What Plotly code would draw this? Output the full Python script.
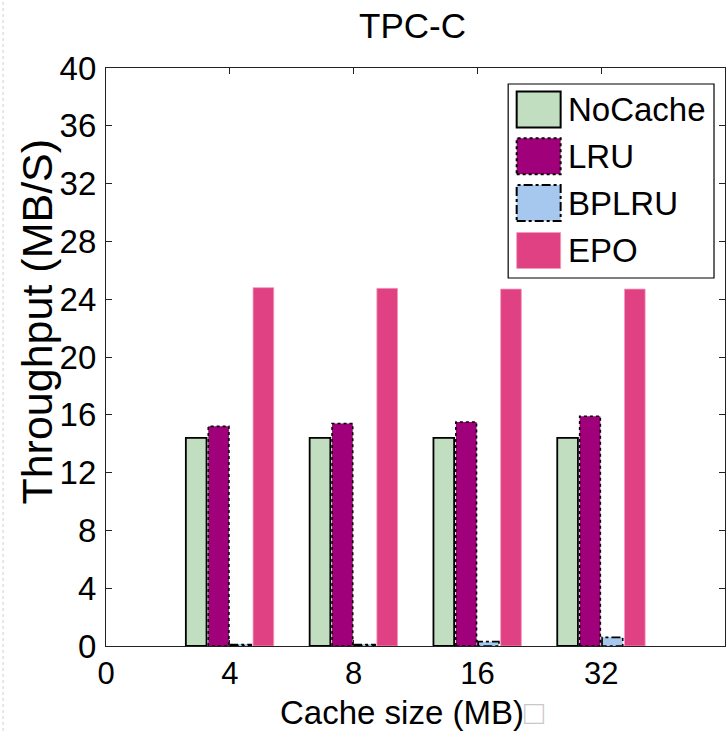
import plotly.graph_objects as go

# ---- data ----
cache_sizes = ["4", "8", "16", "32"]
tick_labels = ["0", "4", "8", "16", "32"]
nocache = [14.4, 14.4, 14.4, 14.4]
lru = [15.2, 15.4, 15.5, 15.9]
bplru = [0.1, 0.1, 0.3, 0.6]
epo = [24.8, 24.75, 24.7, 24.7]
series_names = ["NoCache", "LRU", "BPLRU", "EPO"]

# ---- style ----
W, H = 726, 731
ML, MR, MT, MB = 105.5, 1, 68, 85
FONT = "Liberation Sans, Arial, sans-serif"
colors = {"NoCache": "#C1DEC1", "LRU": "#A0007A", "BPLRU": "#A7C8EE", "EPO": "#E04182"}
dashes = {"NoCache": "solid", "LRU": "dot", "BPLRU": "dashdot", "EPO": None}

slot = 0.181
bw = 0.167
xpos = [i + 1 for i in range(len(cache_sizes))]
series_vals = [nocache, lru, bplru, epo]

fig = go.Figure()
for k, (name, vals) in enumerate(zip(series_names, series_vals)):
    center_off = (k - 1.5) * slot
    line = dict(width=0)
    if name == "NoCache":
        line = dict(width=1.8, color="black")
    elif name == "EPO":
        line = dict(width=0.8, color="#F39BBE")
    fig.add_trace(go.Bar(
        x=xpos, y=vals, name=name, width=bw, offset=center_off - bw / 2,
        marker=dict(color=colors[name], line=line), showlegend=False,
    ))
    if name in ("LRU", "BPLRU"):
        ox, oy = [], []
        for xp, v in zip(xpos, vals):
            x0 = xp + center_off - bw / 2
            x1 = x0 + bw
            ox += [x0, x0, x1, x1, x0, None]
            oy += [0, v, v, 0, 0, None]
        fig.add_trace(go.Scatter(
            x=ox, y=oy, mode="lines", showlegend=False, hoverinfo="skip",
            line=dict(color="black", width=1.6, dash=dashes[name]),
        ))

pw = W - ML - MR
ph = H - MT - MB


def px_x(p):
    return (p - ML) / pw


def px_y(p):
    return (H - MB - p) / ph


shapes = []
annotations = []
# legend box
shapes.append(dict(type="rect", xref="paper", yref="paper",
                   x0=px_x(508), x1=px_x(714), y0=px_y(278), y1=px_y(84),
                   line=dict(color="black", width=1.2), fillcolor="white", layer="above"))
entry_centers = [109.5, 156.3, 203, 250.5]
for name, cy in zip(series_names, entry_centers):
    if name == "EPO":
        ln = dict(width=0.8, color="#F39BBE")
    elif name == "NoCache":
        ln = dict(width=2, color="black")
    else:
        ln = dict(width=2, color="black", dash=dashes[name])
    shapes.append(dict(type="rect", xref="paper", yref="paper",
                       x0=px_x(516.5), x1=px_x(560.5), y0=px_y(cy + 18), y1=px_y(cy - 18),
                       line=ln, fillcolor=colors[name], layer="above"))
    annotations.append(dict(text=name, xref="paper", yref="paper",
                            x=px_x(566), y=px_y(cy), xanchor="left", yanchor="middle",
                            showarrow=False, font=dict(family=FONT, size=33, color="black")))

# faint dashed border line at left edge
shapes.append(dict(type="line", xref="paper", yref="paper",
                   x0=px_x(2.5), x1=px_x(2.5), y0=px_y(H), y1=px_y(0),
                   line=dict(color="#d0d0d0", width=1, dash="dot")))

# y axis title
annotations.append(dict(text="Throughput (MB/S)", xref="paper", yref="paper",
                        x=px_x(36), y=px_y(322), xanchor="center", yanchor="middle",
                        textangle=-90, showarrow=False,
                        font=dict(family=FONT, size=43, color="black")))
# x axis title
annotations.append(dict(text="Cache size (MB)<span style='color:#c8c8c8'>□</span>",
                        xref="paper", yref="paper",
                        x=px_x(412), y=px_y(712), xanchor="center", yanchor="middle",
                        showarrow=False, font=dict(family=FONT, size=33, color="black")))
# title
annotations.append(dict(text="TPC-C", xref="paper", yref="paper",
                        x=px_x(412), y=px_y(25), xanchor="center", yanchor="middle",
                        showarrow=False, font=dict(family=FONT, size=35, color="black")))

axis_common = dict(showline=True, linecolor="#222", linewidth=1.2, mirror="ticks",
                   ticks="inside", ticklen=6, tickcolor="#222", showgrid=False,
                   zeroline=False)

fig.update_layout(
    width=W, height=H, autosize=False,
    margin=dict(l=ML, r=MR, t=MT, b=MB, pad=0),
    paper_bgcolor="white", plot_bgcolor="white",
    barmode="overlay",
    xaxis=dict(range=[0, 5], tickvals=list(range(len(tick_labels))), ticktext=tick_labels,
               ticklabelstandoff=0, tickfont=dict(family=FONT, size=31, color="black"),
               **axis_common),
    yaxis=dict(range=[0, 40], dtick=4, tick0=0, ticklabelstandoff=2,
               tickfont=dict(family=FONT, size=33, color="black"), **axis_common),
    shapes=shapes, annotations=annotations, showlegend=False,
)

fig.write_html("out.html")
